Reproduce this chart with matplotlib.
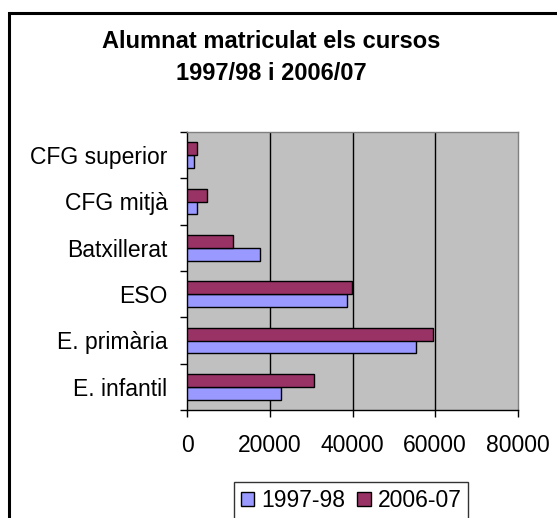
import matplotlib
matplotlib.use("Agg")
import matplotlib.pyplot as plt
import numpy as np
from matplotlib.patches import Rectangle, Patch

categories = ["E. infantil", "E. primària", "ESO", "Batxillerat", "CFG mitjà", "CFG superior"]
v_1997 = [22700, 55300, 38700, 17600, 2400, 1600]
v_2006 = [30700, 59400, 39800, 11100, 4800, 2400]
series_labels = ["1997-98", "2006-07"]
xticks = [0, 20000, 40000, 60000, 80000]

W, H = 557, 518
fig = plt.figure(figsize=(W / 100, H / 100), dpi=100)
plt.rcParams['font.family'] = ['Liberation Sans', 'DejaVu Sans']

# outer chart border (cropped at right/bottom)
fig.patches.append(Rectangle((8.5 / W, -0.1), 1.2, 1 - 13.5 / H + 0.1, transform=fig.transFigure,
                             fill=False, edgecolor='black', linewidth=2.2))

ax = fig.add_axes([187 / W, 1 - 410 / H, (518 - 187) / W, (410 - 132) / H])
ax.set_facecolor('#C0C0C0')

y = np.arange(len(categories))
h = 0.28
ax.barh(y - h / 2, v_1997, height=h, color='#9999FF', edgecolor='black', linewidth=1.0,
        label=series_labels[0], zorder=3)
ax.barh(y + h / 2, v_2006, height=h, color='#993366', edgecolor='black', linewidth=1.0,
        label=series_labels[1], zorder=3)

ax.set_xlim(0, 80000)
ax.set_ylim(-0.5, len(categories) - 0.5)
ax.set_xticks(xticks)
ax.set_xticklabels([str(t) for t in xticks], fontsize=16.5)
ax.set_yticks(y)
ax.set_yticklabels(categories, fontsize=16.5)
ax.set_yticks(np.arange(-0.5, len(categories)), minor=True)
ax.tick_params(axis='y', which='major', length=0, pad=14)
ax.tick_params(axis='y', which='minor', length=5, width=1, direction='out', color='black')
ax.tick_params(axis='x', which='major', length=5, width=1, direction='out', pad=12)

for gx in xticks[1:-1]:
    ax.axvline(gx, color='black', linewidth=1, zorder=1)

ax.spines['left'].set_color('black')
ax.spines['bottom'].set_color('black')
ax.spines['top'].set_color('#808080')
ax.spines['right'].set_color('#808080')
for s in ax.spines.values():
    s.set_linewidth(1)

fig.text(271 / W, 1 - 57 / H, "Alumnat matriculat els cursos\n1997/98 i 2006/07",
         ha='center', va='center', fontsize=17, fontweight='bold', linespacing=1.5)

handles = [Patch(facecolor='#9999FF', edgecolor='black', label=series_labels[0]),
           Patch(facecolor='#993366', edgecolor='black', label=series_labels[1])]
leg = fig.legend(handles=handles, loc='upper center', bbox_to_anchor=(351 / W, 1 - 482 / H),
                 ncol=2, fontsize=16.5, frameon=True, fancybox=False, borderpad=0.3,
                 handlelength=0.6, handleheight=0.6, handletextpad=0.3, columnspacing=0.5,
                 borderaxespad=0)
leg.get_frame().set_edgecolor('black')
leg.get_frame().set_linewidth(1)

fig.savefig("out.png", dpi=100)
